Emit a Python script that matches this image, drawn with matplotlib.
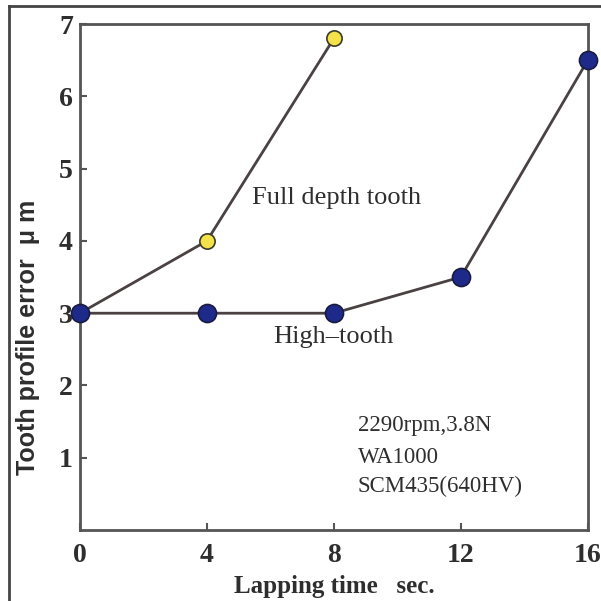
import matplotlib
matplotlib.use("Agg")
import matplotlib.pyplot as plt
from matplotlib.lines import Line2D

# data
time_full = [0, 4, 8]
err_full = [3.0, 4.0, 6.8]
time_high = [0, 4, 8, 12, 16]
err_high = [3.0, 3.0, 3.0, 3.5, 6.5]
x_ticks = [0, 4, 8, 12, 16]
y_ticks = [1, 2, 3, 4, 5, 6, 7]
conditions = ["2290rpm,3.8N", "WA1000", "SCM435(640HV)"]

serif = "Liberation Serif"
line_col = "#4a4242"
spine_col = "#555555"
txt_col = "#2e2e2e"

fig = plt.figure(figsize=(6.01, 6.01), dpi=100)
ax = fig.add_axes([0.133, 0.118, 0.845, 0.842])

ax.plot(time_full, err_full, color=line_col, lw=2, marker="o", ms=11,
        mfc="#f4e24a", mec="#3a3a2a", mew=1.2, zorder=3, clip_on=False)
ax.plot(time_high, err_high, color=line_col, lw=2, marker="o", ms=13,
        mfc="#1e2a8a", mec="#1a1a40", mew=1.2, zorder=4, clip_on=False)

ax.set_xlim(0, 16)
ax.set_ylim(0, 7)
ax.set_xticks(x_ticks)
ax.set_yticks(y_ticks)
ax.set_xticklabels([str(v) for v in x_ticks], fontfamily=serif,
                   fontweight="bold", fontsize=20, color=txt_col)
ax.set_yticklabels([str(v) for v in y_ticks], fontfamily=serif,
                   fontweight="bold", fontsize=20, color=txt_col)
ax.tick_params(direction="in", length=5, width=1.5, color=spine_col, pad=5)
ax.tick_params(axis="x", pad=9)
for s in ax.spines.values():
    s.set_color(spine_col)
    s.set_linewidth(2)

ax.set_xlabel("Lapping time   sec.", fontfamily=serif, fontsize=18,
              fontweight="bold", color=txt_col, labelpad=5)
ax.set_ylabel("Tooth profile error  \u03bc m", fontfamily="Liberation Sans",
              fontsize=18, fontweight="bold", color=txt_col)
ax.yaxis.set_label_coords(-0.079, 0.38)

ax.text(8.1, 4.6, "Full depth tooth", fontfamily=serif, fontsize=19,
        color=txt_col, ha="center", va="center")
ax.text(8.0, 2.67, "High\u2013tooth", fontfamily=serif, fontsize=19,
        color=txt_col, ha="center", va="center")
ys = [1.45, 1.0, 0.6]
for txt, yy in zip(conditions, ys):
    ax.text(8.76, yy, txt, fontfamily=serif, fontsize=16.5,
            color=txt_col, ha="left", va="center")

# outer frame on top and left edges
fig.add_artist(Line2D([0.015, 1.0], [0.99, 0.99], color="#444444", lw=2,
                      transform=fig.transFigure))
fig.add_artist(Line2D([0.015, 0.015], [0.0, 0.99], color="#444444", lw=2,
                      transform=fig.transFigure))

fig.savefig("out.png", dpi=100)
